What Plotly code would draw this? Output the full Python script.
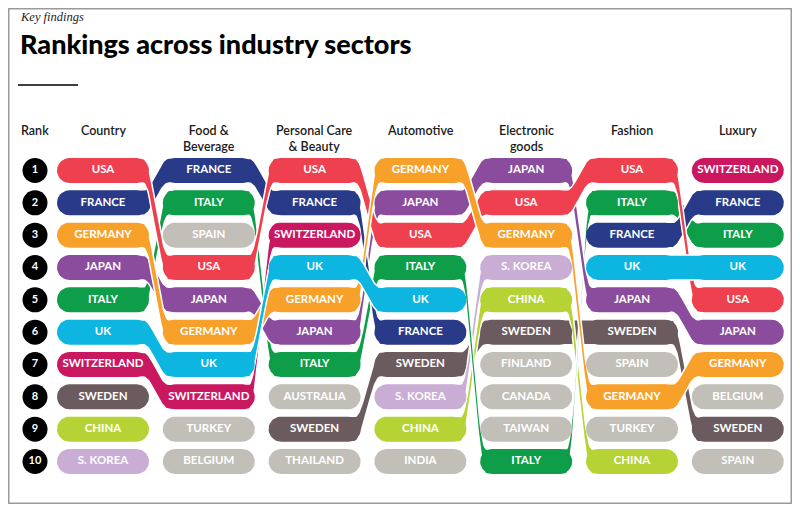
import numpy as np
import plotly.graph_objects as go

# ---- data -------------------------------------------------------------
sectors = ["Country", "Food &<br>Beverage", "Personal Care<br>& Beauty", "Automotive",
           "Electronic<br>goods", "Fashion", "Luxury"]
ranks = [1, 2, 3, 4, 5, 6, 7, 8, 9, 10]

country = ["USA", "FRANCE", "GERMANY", "JAPAN", "ITALY", "UK", "SWITZERLAND", "SWEDEN", "CHINA", "S. KOREA"]
food = ["FRANCE", "ITALY", "SPAIN", "USA", "JAPAN", "GERMANY", "UK", "SWITZERLAND", "TURKEY", "BELGIUM"]
personal_care = ["USA", "FRANCE", "SWITZERLAND", "UK", "GERMANY", "JAPAN", "ITALY", "AUSTRALIA", "SWEDEN", "THAILAND"]
automotive = ["GERMANY", "JAPAN", "USA", "ITALY", "UK", "FRANCE", "SWEDEN", "S. KOREA", "CHINA", "INDIA"]
electronic = ["JAPAN", "USA", "GERMANY", "S. KOREA", "CHINA", "SWEDEN", "FINLAND", "CANADA", "TAIWAN", "ITALY"]
fashion = ["USA", "ITALY", "FRANCE", "UK", "JAPAN", "SWEDEN", "SPAIN", "GERMANY", "TURKEY", "CHINA"]
luxury = ["SWITZERLAND", "FRANCE", "ITALY", "UK", "USA", "JAPAN", "GERMANY", "BELGIUM", "SWEDEN", "SPAIN"]

columns = [country, food, personal_care, automotive, electronic, fashion, luxury]

colores = {
    "USA": "#EE404E",
    "FRANCE": "#283A88",
    "GERMANY": "#F7A12A",
    "JAPAN": "#8B4C9E",
    "ITALY": "#0E9D48",
    "UK": "#0DB6E0",
    "SWITZERLAND": "#C9185F",
    "SWEDEN": "#6C5B5E",
    "CHINA": "#B6D335",
    "S. KOREA": "#C9ADD4",
}
gris = "#C2BFB8"

# orden de dibujo de las cintas (la ultima queda encima)
orden = ["SWEDEN", "S. KOREA", "CHINA", "SWITZERLAND", "ITALY", "JAPAN", "FRANCE", "USA", "GERMANY", "UK"]

# ---- geometria (pixeles de la pagina -> unidades de datos) ------------
OFF = 8             # margen del body de la pagina
W, H = 800 - 2 * OFF, 512 - 2 * OFF
COL_PX = 105.8      # separacion entre columnas
ROW_PX = 32.33      # separacion entre filas
X0_PX = 103         # centro de la primera columna
Y0_PX = 170.5       # centro de la fila 1
PILL_W = 92 / COL_PX
PILL_H = 25 / ROW_PX
R_X = 12.5 / COL_PX
HALF_T = 13 / COL_PX   # media anchura de la transicion
RANK_X = (35 - X0_PX) / COL_PX

x_range = [(OFF - X0_PX) / COL_PX, (OFF + W - X0_PX) / COL_PX]
y_range = [1 + (OFF + H - Y0_PX) / ROW_PX, 1 + (OFF - Y0_PX) / ROW_PX]


def px_x(p):
    return (p - OFF) / W


def px_y(p):
    return 1 - (p - OFF) / H


def pildora(xc, yc):
    t = np.linspace(-np.pi / 2, np.pi / 2, 20)
    xr = xc + PILL_W / 2 - R_X + R_X * np.cos(t)
    yr = yc + PILL_H / 2 * np.sin(t)
    xl = xc - PILL_W / 2 + R_X - R_X * np.cos(t)
    yl = yc - PILL_H / 2 * np.sin(t)
    return np.concatenate([xr, xl, xr[:1]]), np.concatenate([yr, yl, yr[:1]])


def cinta(i, r1, r2):
    xm = i + 0.5
    xs = np.concatenate([[i], np.linspace(xm - HALF_T, xm + HALF_T, 40), [i + 1]])
    t = np.clip((xs - (xm - HALF_T)) / (2 * HALF_T), 0, 1)
    yc = r1 + (r2 - r1) * (1 - np.cos(np.pi * t)) / 2
    px = np.concatenate([xs, xs[::-1], xs[:1]])
    py = np.concatenate([yc - PILL_H / 2, (yc + PILL_H / 2)[::-1], yc[:1] - PILL_H / 2])
    return px, py


fig = go.Figure()

# cintas
for nombre in orden:
    for i in range(len(columns) - 1):
        a, b = columns[i], columns[i + 1]
        if nombre in a and nombre in b:
            px, py = cinta(i, ranks[a.index(nombre)], ranks[b.index(nombre)])
            fig.add_trace(go.Scatter(
                x=px, y=py, mode="lines", fill="toself",
                fillcolor=colores[nombre],
                line=dict(color="white", width=1.5),
                hoverinfo="skip"
            ))

# pildoras
for i, col in enumerate(columns):
    for r, nombre in zip(ranks, col):
        px, py = pildora(i, r)
        fig.add_trace(go.Scatter(
            x=px, y=py, mode="lines", fill="toself",
            fillcolor=colores.get(nombre, gris),
            line=dict(width=0),
            hoverinfo="skip"
        ))

# textos de las pildoras
for i, col in enumerate(columns):
    fig.add_trace(go.Scatter(
        x=[i] * len(col), y=ranks, mode="text", text=col,
        textposition="middle center",
        textfont=dict(family="Lato", size=11.5, color="white", weight="bold"),
        hoverinfo="skip"
    ))

# circulos de rango
fig.add_trace(go.Scatter(
    x=[RANK_X] * len(ranks), y=ranks, mode="markers+text",
    text=[str(r) for r in ranks],
    marker=dict(size=25, color="black"),
    textfont=dict(family="Lato", size=11, color="white", weight="bold"),
    hoverinfo="skip"
))

# ---- textos --------------------------------------------------------
cab = dict(family="Lato", size=12.5, color="#1a1a1a", weight=600)
anotaciones = [
    dict(text="<i>Key findings</i>", x=px_x(18), y=px_y(17), xanchor="left", yanchor="middle",
         font=dict(family="Liberation Serif", size=12.5, color="#222")),
    dict(text="Rankings across industry sectors", x=px_x(18), y=px_y(43),
         xanchor="left", yanchor="middle",
         font=dict(family="Lato", size=27, color="black", weight=900)),
    dict(text="Rank", x=px_x(35), y=px_y(121), xanchor="center", yanchor="top", font=cab),
]
for i, s in enumerate(sectors):
    anotaciones.append(dict(
        text=s, x=px_x(X0_PX + i * COL_PX), y=px_y(121),
        xanchor="center", yanchor="top", align="center", font=cab
    ))
for a in anotaciones:
    a.update(xref="paper", yref="paper", showarrow=False)

fig.update_layout(
    width=W, height=H,
    margin=dict(l=0, r=0, t=0, b=0),
    plot_bgcolor="white", paper_bgcolor="white",
    showlegend=False,
    xaxis=dict(range=x_range, visible=False, fixedrange=True),
    yaxis=dict(range=y_range, visible=False, fixedrange=True),
    annotations=anotaciones,
    shapes=[
        dict(type="line", xref="paper", yref="paper", x0=px_x(18), x1=px_x(78),
             y0=px_y(85), y1=px_y(85), line=dict(color="black", width=1.5)),
        dict(type="rect", xref="paper", yref="paper", x0=0, x1=1,
             y0=0, y1=1, line=dict(color="#9a9a9a", width=3)),
    ]
)

fig.write_html("out.html")
